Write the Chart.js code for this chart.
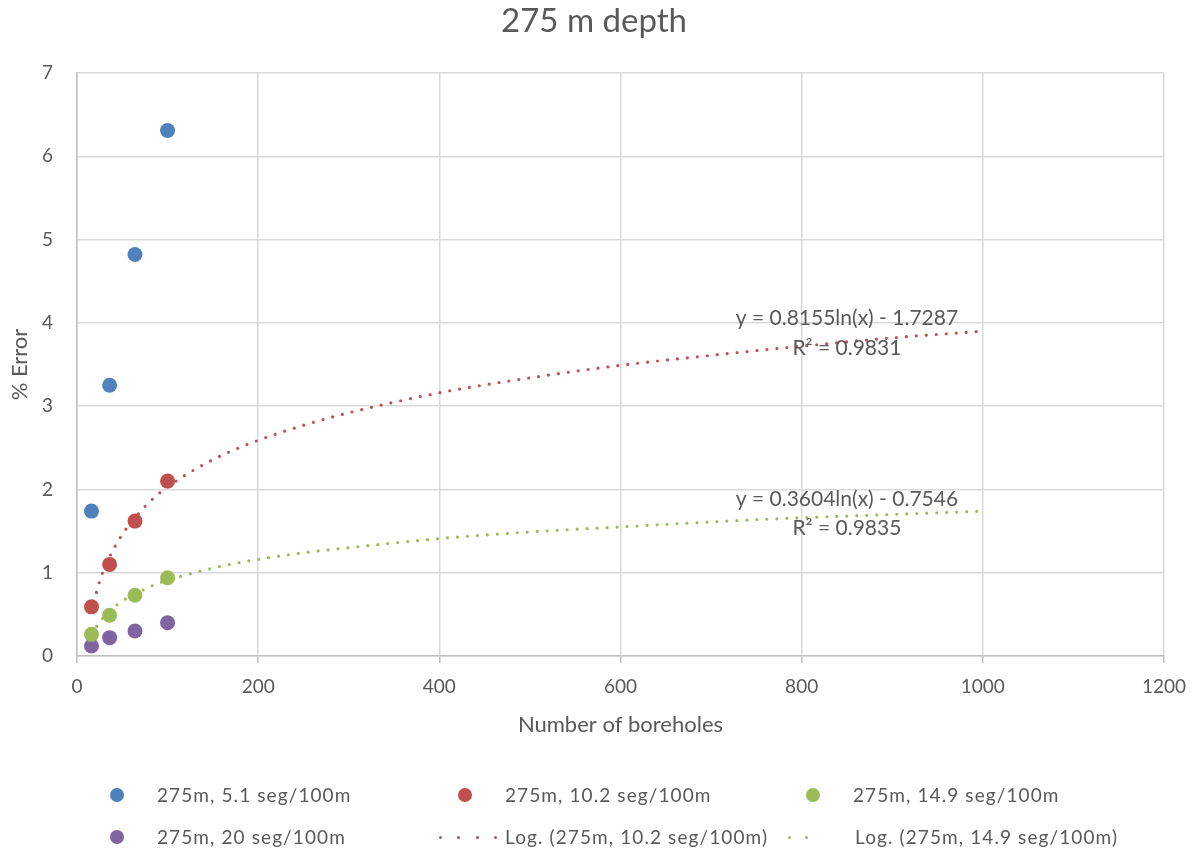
<!DOCTYPE html>
<html>
<head>
<meta charset="utf-8">
<script src="https://cdn.jsdelivr.net/npm/chart.js@4"></script>
<style>
  body { margin: 0; background: #fff; }
  #wrap { position: relative; width: 1198px; height: 852px; }
  #legend { position: absolute; left: 0; top: 0; width: 1198px; height: 852px; pointer-events: none;
            font-family: Lato, sans-serif; font-size: 19px; letter-spacing: 1.1px; color: #595959; }
  .item { position: absolute; white-space: nowrap; line-height: 24px; }
  .dot { position: absolute; border-radius: 50%; }
</style>
</head>
<body>
<div id="wrap">
  <canvas id="myChart" width="1198" height="852"></canvas>
  <div id="legend"></div>
</div>
<script>
// boreholes (x) and % error (y)
const boreholes = [16, 36, 64, 100];
const err51 = [1.74, 3.25, 4.82, 6.31];
const err102 = [0.59, 1.10, 1.62, 2.10];
const err149 = [0.26, 0.49, 0.73, 0.94];
const err20 = [0.12, 0.22, 0.30, 0.40];

// log trend lines
const trendX = [16, 25, 36, 50, 64, 80, 100, 130, 160, 200, 250, 300, 400, 500, 600, 700, 800, 900, 1000];
const trend102 = [0.53, 0.90, 1.19, 1.46, 1.66, 1.85, 2.03, 2.24, 2.41, 2.59, 2.77, 2.92, 3.16, 3.34, 3.49, 3.61, 3.72, 3.82, 3.90];
const trend149 = [0.25, 0.41, 0.54, 0.66, 0.74, 0.83, 0.91, 1.00, 1.08, 1.16, 1.24, 1.30, 1.41, 1.49, 1.55, 1.61, 1.66, 1.70, 1.74];

const seriesNames = ['275m, 5.1 seg/100m', '275m, 10.2 seg/100m', '275m, 14.9 seg/100m',
                     '275m, 20 seg/100m', 'Log. (275m, 10.2 seg/100m)', 'Log. (275m, 14.9 seg/100m)'];
const colors = ['#4F81BD', '#C0504D', '#9BBB59', '#8064A2'];

const eqLabels = [
  { text: 'y = 0.8155ln(x) - 1.7287', x: 850, y: 4.06 },
  { text: 'R² = 0.9831', x: 850, y: 3.70 },
  { text: 'y = 0.3604ln(x) - 0.7546', x: 850, y: 1.885 },
  { text: 'R² = 0.9835', x: 850, y: 1.54 }
];

const xTicks = [0, 200, 400, 600, 800, 1000, 1200];
const yTicks = [0, 1, 2, 3, 4, 5, 6, 7];

const pts = (xs, ys) => xs.map((x, i) => ({ x: x, y: ys[i] }));

const markerSet = (name, ys, c) => ({
  label: name, data: pts(boreholes, ys), order: 2,
  backgroundColor: c, borderColor: c, borderWidth: 0, pointRadius: 7.5, pointHoverRadius: 7.5
});
const trendSet = (name, ys, c) => ({
  label: name, data: pts(trendX, ys), order: 1, showLine: true,
  borderColor: c, borderWidth: 3.2, borderDash: [0, 10], borderCapStyle: 'round',
  pointRadius: 0, cubicInterpolationMode: 'monotone', fill: false
});

// title + trendline equations
const textPlugin = {
  id: 'texts',
  afterDraw(chart) {
    const { ctx, scales } = chart;
    ctx.save();
    ctx.fillStyle = '#595959';
    ctx.textAlign = 'center';
    ctx.textBaseline = 'middle';
    ctx.font = '33px Lato';
    ctx.fillText('275 m depth', 594, 21);
    ctx.font = '21px Lato';
    eqLabels.forEach(l => ctx.fillText(l.text, scales.x.getPixelForValue(l.x), scales.y.getPixelForValue(l.y)));
    ctx.restore();
  }
};

const ctx = document.getElementById('myChart').getContext('2d');
const chart = new Chart(ctx, {
  type: 'scatter',
  data: {
    datasets: [
      markerSet(seriesNames[0], err51, colors[0]),
      markerSet(seriesNames[1], err102, colors[1]),
      markerSet(seriesNames[2], err149, colors[2]),
      markerSet(seriesNames[3], err20, colors[3]),
      trendSet(seriesNames[4], trend102, colors[1]),
      trendSet(seriesNames[5], trend149, colors[2])
    ]
  },
  options: {
    responsive: false,
    animation: false,
    layout: { padding: { left: 0, right: 30, top: 73, bottom: 106 } },
    plugins: {
      legend: { display: false },
      tooltip: { enabled: false },
      title: { display: false }
    },
    scales: {
      x: {
        type: 'linear', min: 0, max: 1200,
        afterBuildTicks: s => { s.ticks = xTicks.map(v => ({ value: v })); },
        afterFit: s => { s.height = 90; },
        grid: { color: '#d9d9d9', lineWidth: 1.5, drawTicks: true, tickLength: 7, tickColor: '#bfbfbf' },
        border: { color: '#bfbfbf', width: 1.5 },
        ticks: { color: '#595959', font: { family: 'Lato', size: 19 }, padding: 12, maxRotation: 0,
                 callback: v => String(v) },
        title: { display: true, text: 'Number of boreholes', color: '#595959',
                 font: { family: 'Lato', size: 22 }, padding: { top: 0, bottom: 8 } }
      },
      y: {
        type: 'linear', min: 0, max: 7,
        afterBuildTicks: s => { s.ticks = yTicks.map(v => ({ value: v })); },
        afterFit: s => { s.width = 77; },
        grid: { color: '#d9d9d9', lineWidth: 1.5, drawTicks: false },
        border: { color: '#bfbfbf', width: 1.5 },
        ticks: { color: '#595959', font: { family: 'Lato', size: 19 }, padding: 24,
                 callback: v => String(v) },
        title: { display: true, text: '% Error', color: '#595959',
                 font: { family: 'Lato', size: 22 }, padding: { top: 7, bottom: 0 } }
      }
    }
  },
  plugins: [textPlugin]
});

// legend, three columns like the original
const legend = document.getElementById('legend');
const cols = [117, 465, 813];
const rows = [795, 837];
seriesNames.forEach((name, i) => {
  const cx = cols[i % 3], cy = rows[Math.floor(i / 3)];
  if (i < 4) {
    const d = document.createElement('div');
    d.className = 'dot';
    d.style.cssText += `left:${cx - 7}px;top:${cy - 7}px;width:14px;height:14px;background:${colors[i]}`;
    legend.appendChild(d);
  } else {
    const xs = i === 4 ? [440, 458, 477, 495] : [789, 806];
    xs.forEach(x => {
      const d = document.createElement('div');
      d.className = 'dot';
      d.style.cssText += `left:${x - 1.5}px;top:${cy - 1.5}px;width:3px;height:3px;background:${colors[i === 4 ? 1 : 2]}`;
      legend.appendChild(d);
    });
  }
  const t = document.createElement('div');
  t.className = 'item';
  t.textContent = name;
  const left = i === 4 ? 505 : (i === 5 ? 855 : cx + 40);
  t.style.left = left + 'px';
  t.style.top = (cy - 12) + 'px';
  legend.appendChild(t);
});
</script>
</body>
</html>
